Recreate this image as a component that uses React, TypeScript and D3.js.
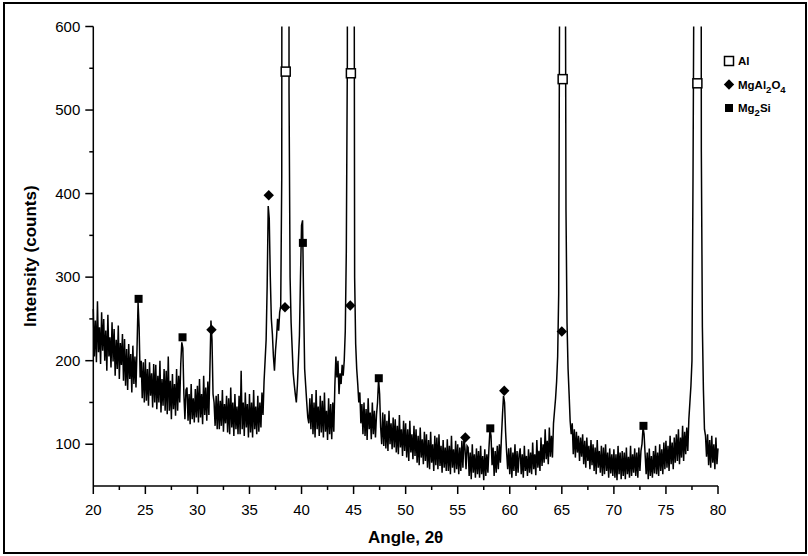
import React from "react";
import * as d3 from "d3";

// XRD scan: start angle, step, counts (one row per degree)
const scanStart = 20;
const scanStep = 0.1;
const countRows: number[][] = [
  [262, 205, 248, 198, 271, 210, 240, 196, 258, 212], // 20
  [250, 200, 236, 188, 255, 205, 228, 192, 246, 199], // 21
  [238, 182, 225, 190, 242, 178, 221, 195, 232, 176], // 22
  [226, 170, 214, 165, 220, 178, 208, 162, 218, 172], // 23
  [205, 168, 215, 270, 240, 180, 200, 155, 198, 150], // 24
  [202, 152, 190, 146, 198, 158, 185, 144, 196, 150], // 25
  [195, 142, 182, 150, 200, 138, 178, 146, 190, 140], // 26
  [188, 136, 205, 140, 176, 130, 184, 142, 172, 134], // 27
  [190, 140, 182, 150, 196, 222, 215, 160, 130, 165], // 28
  [168, 128, 160, 124, 172, 130, 155, 126, 166, 132], // 29
  [170, 126, 178, 132, 160, 124, 182, 135, 168, 128], // 30
  [175, 135, 190, 248, 225, 160, 150, 122, 158, 118], // 31
  [160, 118, 152, 122, 165, 115, 148, 125, 158, 114], // 32
  [155, 112, 168, 120, 150, 110, 160, 118, 145, 112], // 33
  [158, 112, 188, 118, 150, 110, 162, 120, 148, 108], // 34
  [160, 114, 150, 108, 165, 118, 145, 112, 158, 115], // 35
  [150, 120, 162, 135, 175, 200, 225, 290, 385, 370], // 36
  [300, 250, 232, 205, 188, 212, 228, 250, 236, 258], // 37
  [265, 420, 2500, 6000, 9000, 9500, 7000, 3500, 520, 300], // 38
  [245, 215, 185, 172, 160, 150, 170, 200, 230, 300], // 39
  [362, 368, 270, 190, 170, 150, 132, 125, 155, 118], // 40
  [160, 112, 150, 108, 165, 118, 145, 110, 158, 114], // 41
  [152, 108, 162, 115, 140, 105, 155, 112, 148, 106], // 42
  [150, 115, 170, 205, 180, 200, 160, 185, 172, 195], // 43
  [182, 200, 235, 330, 560, 3000, 8000, 9500, 8500, 4000], // 44
  [1200, 300, 220, 190, 172, 150, 162, 125, 148, 112], // 45
  [150, 110, 142, 105, 155, 118, 138, 106, 150, 112], // 46
  [140, 108, 135, 150, 178, 160, 120, 100, 138, 98], // 47
  [136, 95, 128, 92, 140, 100, 125, 94, 132, 96], // 48
  [130, 90, 122, 88, 135, 96, 118, 86, 128, 92], // 49
  [125, 84, 118, 80, 128, 90, 112, 82, 122, 86], // 50
  [118, 78, 110, 75, 120, 84, 106, 76, 115, 80], // 51
  [112, 72, 105, 70, 115, 78, 100, 68, 110, 75], // 52
  [108, 70, 112, 74, 98, 66, 105, 72, 96, 68], // 53
  [106, 68, 98, 64, 110, 72, 94, 66, 104, 70], // 54
  [100, 64, 96, 68, 104, 72, 108, 95, 70, 98], // 55
  [96, 62, 90, 58, 100, 66, 88, 60, 95, 64], // 56
  [92, 60, 98, 64, 86, 57, 94, 62, 88, 66], // 57
  [95, 118, 110, 75, 96, 62, 92, 66, 98, 70], // 58
  [100, 78, 108, 135, 158, 150, 115, 90, 70, 95], // 59
  [64, 96, 60, 90, 68, 100, 62, 92, 66, 88], // 60
  [95, 64, 88, 60, 98, 68, 86, 62, 94, 66], // 61
  [90, 64, 102, 70, 88, 63, 105, 72, 92, 68], // 62
  [108, 74, 100, 78, 118, 82, 104, 76, 120, 85], // 63
  [110, 84, 125, 140, 155, 175, 205, 280, 700, 3000], // 64
  [7000, 7000, 3000, 900, 380, 245, 190, 160, 128, 112], // 65
  [125, 88, 118, 84, 115, 90, 110, 80, 108, 85], // 66
  [112, 76, 104, 72, 108, 80, 98, 70, 105, 75], // 67
  [100, 68, 96, 64, 105, 72, 92, 66, 98, 62], // 68
  [96, 64, 100, 68, 90, 60, 95, 65, 88, 62], // 69
  [94, 60, 88, 57, 98, 64, 90, 58, 92, 62], // 70
  [90, 58, 96, 64, 85, 60, 98, 62, 88, 66], // 71
  [95, 62, 90, 60, 96, 68, 92, 100, 120, 112], // 72
  [88, 64, 90, 58, 95, 62, 86, 60, 92, 65], // 73
  [98, 64, 90, 62, 100, 68, 94, 64, 102, 70], // 74
  [104, 72, 98, 68, 110, 76, 102, 70, 108, 78], // 75
  [112, 80, 118, 76, 108, 84, 122, 80, 115, 88], // 76
  [120, 92, 130, 150, 170, 200, 420, 700, 3000, 7000], // 77
  [9000, 8000, 5000, 2000, 450, 240, 165, 118, 110, 85], // 78
  [112, 75, 105, 72, 110, 78, 100, 70, 108, 76], // 79
  [95], // 80
];

// Phase markers: [angle, intensity]
const alMarkers: [number, number][] = [
  [38.48, 546],
  [44.74, 544],
  [65.08, 537],
  [78.02, 532],
];
const spinelMarkers: [number, number][] = [
  [36.85, 398],
  [38.41, 264],
  [31.35, 237],
  [44.68, 266],
  [55.73, 108],
  [59.47, 164],
  [65.0, 235],
];
const mg2siMarkers: [number, number][] = [
  [24.35, 274],
  [28.57, 228],
  [40.13, 341],
  [47.42, 179],
  [58.13, 119],
  [72.84, 122],
];

const xTicks = [20, 25, 30, 35, 40, 45, 50, 55, 60, 65, 70, 75, 80];
const xMinorTicks = [22.5, 27.5, 32.5, 37.5, 42.5, 47.5, 52.5, 57.5, 62.5, 67.5, 72.5, 77.5];
const yTicks = [100, 200, 300, 400, 500, 600];
const yMinorTicks = [150, 250, 350, 450, 550];

const legendLabels = ["Al", "MgAl2O4", "Mg2Si"];
const legendKinds = ["open", "diamond", "square"];

const W = 808;
const H = 556;
const FONT = "'Liberation Sans', Arial, Helvetica, sans-serif";

const counts = countRows.flat();

function Marker({ kind, cx, cy }: { kind: string; cx: number; cy: number }) {
  if (kind === "open") {
    return (
      <rect x={cx - 4.5} y={cy - 4.5} width={9} height={9} fill="#fff" stroke="#000" strokeWidth={1.5} />
    );
  }
  if (kind === "diamond") {
    const r = 5.2;
    return (
      <path d={`M${cx},${cy - r}L${cx + r},${cy}L${cx},${cy + r}L${cx - r},${cy}Z`} fill="#000" />
    );
  }
  return <rect x={cx - 4} y={cy - 4} width={8} height={8} fill="#000" />;
}

function SubLabel({ text, x, y }: { text: string; x: number; y: number }) {
  const parts = text.split(/(\d+)/).filter((p) => p.length > 0);
  let shifted = false;
  return (
    <text x={x} y={y} fontFamily={FONT} fontWeight="bold" fontSize={11.5} fill="#000">
      {parts.map((p, i) => {
        const isNum = /^\d+$/.test(p);
        let dy = 0;
        if (isNum && !shifted) {
          dy = 4;
          shifted = true;
        } else if (!isNum && shifted) {
          dy = -4;
          shifted = false;
        }
        return (
          <tspan key={i} dy={dy} fontSize={isNum ? 9.5 : 11.5}>
            {p}
          </tspan>
        );
      })}
    </text>
  );
}

export default function App() {
  const x = d3.scaleLinear().domain([20, 80]).range([93.3, 718]);
  const y = d3.scaleLinear().domain([50, 600]).range([486, 26.5]);

  const line = d3
    .line<number>()
    .x((_, i) => x(scanStart + i * scanStep))
    .y((d) => y(d));

  const x0 = x(20);
  const x1 = x(80);
  const yTop = y(600);
  const yBot = y(50);

  return (
    <svg
      width={W}
      height={H}
      style={{ position: "absolute", left: 0, top: 0, background: "#fff" }}
    >
      <rect x={0} y={0} width={W} height={H} fill="#fff" />
      <rect x={4} y={3} width={802} height={550} fill="none" stroke="#000" strokeWidth={2} />
      <defs>
        <clipPath id="plotClip">
          <rect x={x0 - 2} y={yTop} width={x1 - x0 + 4} height={yBot - yTop} />
        </clipPath>
      </defs>

      <g clipPath="url(#plotClip)">
        <path d={line(counts) || ""} fill="none" stroke="#000" strokeWidth={1.5} strokeLinejoin="miter" />
      </g>

      {/* axes */}
      <line x1={x0} x2={x0} y1={yTop} y2={yBot} stroke="#000" strokeWidth={1.5} />
      <line x1={x0} x2={x1} y1={yBot} y2={yBot} stroke="#000" strokeWidth={1.5} />

      {yTicks.map((t) => (
        <g key={"yt" + t}>
          <line x1={x0 - 8} x2={x0} y1={y(t)} y2={y(t)} stroke="#000" strokeWidth={1.5} />
          <text
            x={x0 - 13}
            y={y(t) + 5}
            textAnchor="end"
            fontFamily={FONT}
            fontSize={15}
            fill="#000"
          >
            {t}
          </text>
        </g>
      ))}
      {yMinorTicks.map((t) => (
        <line key={"ym" + t} x1={x0 - 4} x2={x0} y1={y(t)} y2={y(t)} stroke="#000" strokeWidth={1.5} />
      ))}

      {xTicks.map((t) => (
        <g key={"xt" + t}>
          <line x1={x(t)} x2={x(t)} y1={yBot} y2={yBot + 8} stroke="#000" strokeWidth={1.5} />
          <text
            x={x(t)}
            y={yBot + 29}
            textAnchor="middle"
            fontFamily={FONT}
            fontSize={15}
            fill="#000"
          >
            {t}
          </text>
        </g>
      ))}
      {xMinorTicks.map((t) => (
        <line key={"xm" + t} x1={x(t)} x2={x(t)} y1={yBot} y2={yBot + 4} stroke="#000" strokeWidth={1.5} />
      ))}

      {/* axis titles */}
      <text
        transform={`translate(36, ${(yTop + yBot) / 2}) rotate(-90)`}
        textAnchor="middle"
        fontFamily={FONT}
        fontWeight="bold"
        fontSize={17}
        fill="#000"
      >
        Intensity (counts)
      </text>
      <text
        x={(x0 + x1) / 2}
        y={543}
        textAnchor="middle"
        fontFamily={FONT}
        fontWeight="bold"
        fontSize={17}
        fill="#000"
      >
        Angle, 2θ
      </text>

      {/* phase markers */}
      {alMarkers.map(([a, v], i) => (
        <Marker key={"al" + i} kind="open" cx={x(a)} cy={y(v)} />
      ))}
      {spinelMarkers.map(([a, v], i) => (
        <Marker key={"sp" + i} kind="diamond" cx={x(a)} cy={y(v)} />
      ))}
      {mg2siMarkers.map(([a, v], i) => (
        <Marker key={"mg" + i} kind="square" cx={x(a)} cy={y(v)} />
      ))}

      {/* legend */}
      {legendLabels.map((lab, i) => {
        const cy = 61 + i * 23.5;
        return (
          <g key={"lg" + i}>
            <Marker kind={legendKinds[i]} cx={729} cy={cy} />
            <SubLabel text={lab} x={738} y={cy + 4} />
          </g>
        );
      })}
    </svg>
  );
}
